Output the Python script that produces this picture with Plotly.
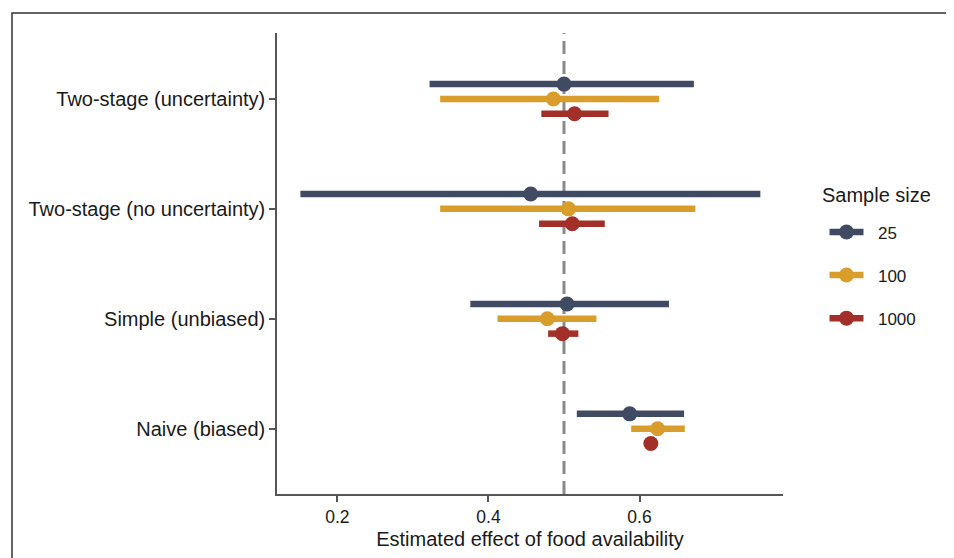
import plotly.graph_objects as go

# ---- data ----
methods = ["Naive (biased)", "Simple (unbiased)", "Two-stage (no uncertainty)", "Two-stage (uncertainty)"]
sample_sizes = ["25", "100", "1000"]

est_25 = [0.587, 0.504, 0.456, 0.500]
lo_25 = [0.517, 0.376, 0.151, 0.322]
hi_25 = [0.659, 0.639, 0.760, 0.672]

est_100 = [0.624, 0.478, 0.506, 0.486]
lo_100 = [0.589, 0.412, 0.336, 0.336]
hi_100 = [0.660, 0.543, 0.674, 0.626]

est_1000 = [0.615, 0.498, 0.511, 0.514]
lo_1000 = [0.608, 0.479, 0.467, 0.470]
hi_1000 = [0.621, 0.519, 0.554, 0.559]

true_effect = 0.5
x_ticks = [0.2, 0.4, 0.6]

# ---- styling ----
colors = {"25": "#414a63", "100": "#d99d2b", "1000": "#a33028"}
offsets = {"25": 0.135, "100": 0.0, "1000": -0.135}
series = {
    "25": (est_25, lo_25, hi_25),
    "100": (est_100, lo_100, hi_100),
    "1000": (est_1000, lo_1000, hi_1000),
}
FONT = "Liberation Sans, Arial, Helvetica, sans-serif"
LW = 6.5
MS = 15
NBSP = "\u00a0"

fig = go.Figure()

for s in sample_sizes:
    est, lo, hi = series[s]
    ys = [i + offsets[s] for i in range(len(methods))]
    xl, yl = [], []
    for a, b, y in zip(lo, hi, ys):
        xl += [a, b, None]
        yl += [y, y, None]
    fig.add_trace(go.Scatter(
        x=xl, y=yl, mode="lines",
        line=dict(color=colors[s], width=LW),
        showlegend=False, hoverinfo="skip",
    ))
    fig.add_trace(go.Scatter(
        x=est, y=ys, mode="markers",
        marker=dict(color=colors[s], size=MS),
        showlegend=False, name=s,
    ))
    # legend entry
    fig.add_trace(go.Scatter(
        x=[None], y=[None], mode="lines+markers", name=NBSP * 2 + s,
        legendgroup=s,
        line=dict(color=colors[s], width=LW),
        marker=dict(color=colors[s], size=MS),
    ))

fig.add_shape(type="line", xref="x", yref="paper",
              x0=true_effect, x1=true_effect, y0=0, y1=1,
              line=dict(color="#8a8a8a", width=3, dash="13px,7px"),
              layer="below")

# outer frame
fig.add_shape(type="rect", xref="paper", yref="paper",
              x0=-0.5237, x1=1.326, y0=-0.2, y1=1.0434,
              line=dict(color="#333333", width=1.5), layer="below")

# legend title
fig.add_annotation(text="Sample size", xref="paper", yref="paper",
                   x=1.073, y=0.6486, xanchor="left", yanchor="middle",
                   showarrow=False, font=dict(size=20, family=FONT, color="#1a1a1a"))

# the page body adds an 8px offset; the figure is sized to compensate
fig.update_layout(
    width=946, height=550,
    margin=dict(l=269, r=171, t=25, b=64, autoexpand=False),
    paper_bgcolor="white", plot_bgcolor="white",
    font=dict(family=FONT, color="#1a1a1a"),
    xaxis=dict(
        range=[0.120, 0.790], tickvals=x_ticks, ticktext=[f"{v:.1f}" for v in x_ticks],
        showgrid=False, zeroline=False,
        showline=True, linecolor="#555555", linewidth=1.5,
        ticks="outside", ticklen=6, tickcolor="#555555", tickwidth=1.5,
        tickfont=dict(size=17.5, family=FONT, color="#1a1a1a"),
        title=dict(text="Estimated effect of food availability",
                   font=dict(size=20, family=FONT, color="#1a1a1a"), standoff=6),
    ),
    yaxis=dict(
        range=[-0.594, 3.6], tickvals=list(range(len(methods))), ticktext=methods,
        showgrid=False, zeroline=False,
        showline=True, linecolor="#555555", linewidth=1.5,
        ticks="outside", ticklen=6, tickcolor="#555555", tickwidth=1.5,
        tickfont=dict(size=20, family=FONT, color="#1a1a1a"),
        ticklabelstandoff=0,
    ),
    legend=dict(
        font=dict(size=17, family=FONT, color="#1a1a1a"),
        x=1.082, xanchor="left", y=0.6065, yanchor="top",
        tracegroupgap=18, itemwidth=34,
        bgcolor="rgba(0,0,0,0)",
    ),
)

fig.write_html("out.html")
